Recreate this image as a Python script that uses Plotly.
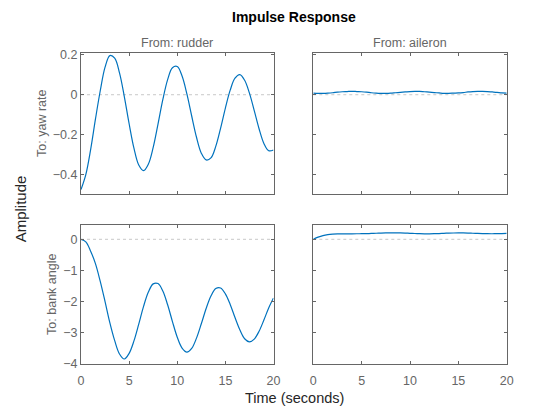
import plotly.graph_objects as go
from plotly.subplots import make_subplots

# time samples (seconds)
t = [i * 0.5 for i in range(41)]

# From: rudder -> To: yaw rate
yaw_rudder = [-0.477, -0.402, -0.276, -0.123, 0.020, 0.139, 0.197, 0.184, 0.110, -0.009,
              -0.146, -0.269, -0.354, -0.382, -0.349, -0.265, -0.148, -0.025, 0.076, 0.136,
              0.142, 0.094, 0.004, -0.107, -0.214, -0.294, -0.328, -0.318, -0.260, -0.169,
              -0.067, 0.023, 0.083, 0.101, 0.073, 0.008, -0.080, -0.171, -0.245, -0.282, -0.278]

# From: aileron -> To: yaw rate
yaw_aileron = [0.008, 0.007, 0.007, 0.008, 0.010, 0.013, 0.015, 0.016, 0.017, 0.016,
               0.015, 0.013, 0.010, 0.008, 0.007, 0.007, 0.008, 0.010, 0.012, 0.014,
               0.016, 0.017, 0.017, 0.015, 0.013, 0.011, 0.009, 0.007, 0.007, 0.008,
               0.009, 0.011, 0.014, 0.016, 0.017, 0.017, 0.016, 0.014, 0.012, 0.009, 0.008]

# From: rudder -> To: bank angle
bank_rudder = [0.0, -0.08, -0.38, -0.78, -1.35, -2.0, -2.68, -3.25, -3.68, -3.84,
               -3.66, -3.26, -2.72, -2.15, -1.69, -1.43, -1.42, -1.66, -2.10, -2.64,
               -3.14, -3.49, -3.62, -3.50, -3.17, -2.71, -2.22, -1.82, -1.58, -1.56,
               -1.75, -2.09, -2.51, -2.90, -3.19, -3.29, -3.20, -2.95, -2.59, -2.20, -1.88]

# From: aileron -> To: bank angle
bank_aileron = [0.0, 0.07, 0.12, 0.15, 0.165, 0.172, 0.175, 0.176, 0.177, 0.178,
                0.180, 0.183, 0.188, 0.194, 0.200, 0.205, 0.208, 0.208, 0.205, 0.200,
                0.193, 0.186, 0.180, 0.177, 0.177, 0.180, 0.185, 0.192, 0.198, 0.203,
                0.205, 0.204, 0.200, 0.194, 0.188, 0.183, 0.180, 0.179, 0.181, 0.184, 0.188]

inputs = ["rudder", "aileron"]
outputs = ["yaw rate", "bank angle"]
x_ticks = [0, 5, 10, 15, 20]
top_ticks = [-0.4, -0.2, 0, 0.2]
bottom_ticks = [-4, -3, -2, -1, 0]

line_col = "#0072BD"
axis_col = "#666666"
font = "Liberation Sans, Arial, Helvetica, sans-serif"

# page body adds an 8px margin, so the figure is 8px smaller each way
W, H = 552, 412

fig = make_subplots(rows=2, cols=2)

series = {(1, 1): yaw_rudder, (1, 2): yaw_aileron,
          (2, 1): bank_rudder, (2, 2): bank_aileron}
for (r, c), ys in series.items():
    fig.add_trace(go.Scatter(x=t, y=ys, mode="lines", line=dict(color=line_col, width=1.2, shape="spline"),
                             showlegend=False, hoverinfo="skip"), row=r, col=c)
    fig.add_hline(y=0, row=r, col=c, line=dict(color="#c8c8c8", width=1, dash="dot"), layer="below")

x_domains = [[73 / W, 265.5 / W], [305.3 / W, 498.7 / W]]
y_domains = [[1 - 185.5 / H, 1 - 45 / H], [1 - 356 / H, 1 - 216.5 / H]]
y_ranges = [[-0.497, 0.21], [-4, 0.475]]

for r in (1, 2):
    for c in (1, 2):
        fig.update_xaxes(row=r, col=c, domain=x_domains[c - 1], range=[0, 20], tickvals=x_ticks,
                         showticklabels=(r == 2), ticks="inside", ticklen=3, tickcolor=axis_col,
                         showline=True, linecolor=axis_col, linewidth=1, mirror="ticks",
                         showgrid=False, zeroline=False, ticklabelstandoff=5,
                         tickfont=dict(family=font, size=12.5, color=axis_col))
        fig.update_yaxes(row=r, col=c, domain=y_domains[r - 1], range=y_ranges[r - 1],
                         tickvals=top_ticks if r == 1 else bottom_ticks,
                         showticklabels=(c == 1), ticks="inside", ticklen=3, tickcolor=axis_col,
                         showline=True, linecolor=axis_col, linewidth=1, mirror="ticks",
                         showgrid=False, zeroline=False,
                         tickfont=dict(family=font, size=12.5, color=axis_col))
    fig.update_yaxes(row=r, col=1, title=dict(text="To: " + outputs[r - 1], standoff=3,
                                               font=dict(family=font, size=12.5, color=axis_col)))

annotations = []
for c in (1, 2):
    mid = sum(x_domains[c - 1]) / 2
    annotations.append(dict(text="From: " + inputs[c - 1], x=mid, y=y_domains[0][1], xref="paper", yref="paper",
                            xanchor="center", yanchor="bottom", yshift=1, showarrow=False,
                            font=dict(family=font, size=12.5, color=axis_col)))
annotations.append(dict(text="Amplitude", x=12 / W, y=1 - 201.3 / H, xref="paper", yref="paper", textangle=-90,
                        xanchor="center", yanchor="middle", showarrow=False,
                        font=dict(family=font, size=15, color="#262626")))
annotations.append(dict(text="Time (seconds)", x=286.5 / W, y=1 - 390 / H, xref="paper", yref="paper",
                        xanchor="center", yanchor="middle", showarrow=False,
                        font=dict(family=font, size=14.5, color="#262626")))
annotations.append(dict(text="<b>Impulse Response</b>", x=285.5 / W, y=1 - 9 / H, xref="paper", yref="paper",
                        xanchor="center", yanchor="middle", showarrow=False,
                        font=dict(family=font, size=14, color="#000000")))

fig.update_layout(width=W, height=H, margin=dict(l=0, r=0, t=0, b=0, autoexpand=False),
                  paper_bgcolor="white", plot_bgcolor="white", annotations=annotations)

fig.write_html("out.html")
